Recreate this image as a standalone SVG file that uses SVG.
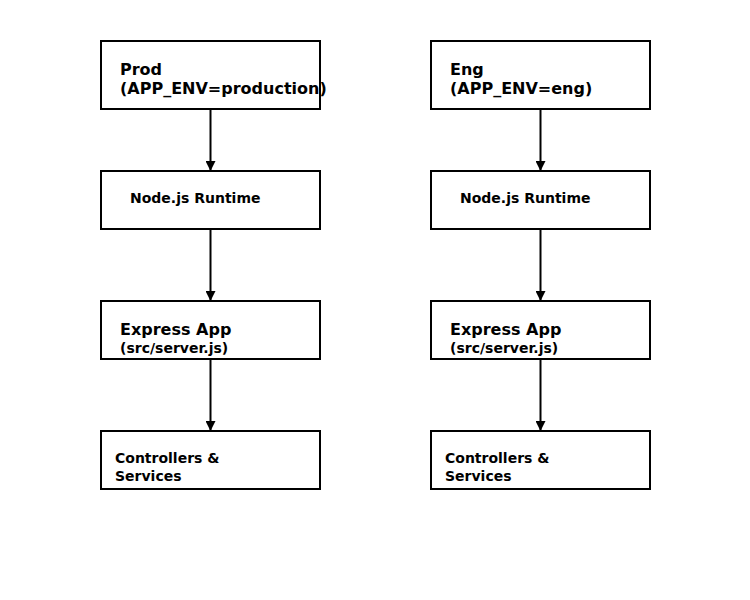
<svg xmlns="http://www.w3.org/2000/svg" width="750" height="600" viewBox="0 0 750 600">
<defs>
<marker id="ah" markerWidth="10" markerHeight="10" refX="9" refY="5" orient="auto" markerUnits="userSpaceOnUse">
<path d="M0,0 L10,5 L0,10 Z" fill="#000"/>
</marker>
<style>
.box{fill:#fff;stroke:#000;stroke-width:2}
.t{font-family:"DejaVu Sans",sans-serif;font-weight:bold;fill:#000}
.l{font-size:16px}
.s{font-size:14px}
.c{stroke:#000;stroke-width:2;fill:none;marker-end:url(#ah)}
</style>
</defs>
<rect width="750" height="600" fill="#fff"/>
<g id="connectors">
<line class="c" x1="210.5" y1="109" x2="210.5" y2="170"/>
<line class="c" x1="210.5" y1="229" x2="210.5" y2="300"/>
<line class="c" x1="210.5" y1="359" x2="210.5" y2="430"/>
<line class="c" x1="540.5" y1="109" x2="540.5" y2="170"/>
<line class="c" x1="540.5" y1="229" x2="540.5" y2="300"/>
<line class="c" x1="540.5" y1="359" x2="540.5" y2="430"/>
</g>
<g id="prod">
<rect class="box" x="101" y="41" width="219" height="68"/>
<text class="t l" x="120" y="75">Prod</text>
<text class="t l" x="120" y="94">(APP_ENV=production)</text>
</g>
<g id="prod-node">
<rect class="box" x="101" y="171" width="219" height="58"/>
<text class="t s" x="130" y="203">Node.js Runtime</text>
</g>
<g id="prod-express">
<rect class="box" x="101" y="301" width="219" height="58"/>
<text class="t l" x="120" y="335">Express App</text>
<text class="t s" x="120" y="353">(src/server.js)</text>
</g>
<g id="prod-controllers">
<rect class="box" x="101" y="431" width="219" height="58"/>
<text class="t s" x="115" y="463">Controllers &amp;</text>
<text class="t s" x="115" y="481">Services</text>
</g>
<g id="eng">
<rect class="box" x="431" y="41" width="219" height="68"/>
<text class="t l" x="450" y="75">Eng</text>
<text class="t l" x="450" y="94">(APP_ENV=eng)</text>
</g>
<g id="eng-node">
<rect class="box" x="431" y="171" width="219" height="58"/>
<text class="t s" x="460" y="203">Node.js Runtime</text>
</g>
<g id="eng-express">
<rect class="box" x="431" y="301" width="219" height="58"/>
<text class="t l" x="450" y="335">Express App</text>
<text class="t s" x="450" y="353">(src/server.js)</text>
</g>
<g id="eng-controllers">
<rect class="box" x="431" y="431" width="219" height="58"/>
<text class="t s" x="445" y="463">Controllers &amp;</text>
<text class="t s" x="445" y="481">Services</text>
</g>
</svg>
